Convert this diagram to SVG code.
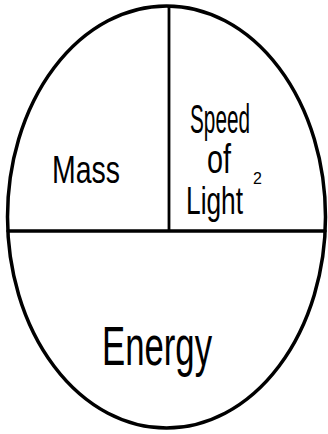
<svg xmlns="http://www.w3.org/2000/svg" width="328" height="434" viewBox="0 0 328 434">
<style>
.t{font-family:"Liberation Sans","DejaVu Sans",sans-serif;fill:#000}
.ln{stroke:#000;fill:none;stroke-linecap:round}
</style>
<rect width="328" height="434" fill="#fff"/>
<g id="connectors">
<ellipse class="ln" cx="166.5" cy="217" rx="159" ry="211" stroke-width="3.5"/>
<line class="ln" x1="8" y1="231" x2="325" y2="231" stroke-width="3.5"/>
<line class="ln" x1="169" y1="7" x2="169" y2="230" stroke-width="2.8"/>
</g>
<g id="mass"><text class="t" x="52" y="183" font-size="38" textLength="68" lengthAdjust="spacingAndGlyphs">Mass</text></g>
<g id="speed">
<text class="t" x="190" y="133" font-size="40" textLength="60" lengthAdjust="spacingAndGlyphs">Speed</text>
<text class="t" x="207" y="173" font-size="40" textLength="24" lengthAdjust="spacingAndGlyphs">of</text>
<text class="t" transform="translate(186,214) scale(0.94,1.4)" font-size="28">Light</text>
<text class="t" x="253" y="184" font-size="16">2</text>
</g>
<g id="energy"><text class="t" x="102" y="365" font-size="56" textLength="110" lengthAdjust="spacingAndGlyphs">Energy</text></g>
</svg>
